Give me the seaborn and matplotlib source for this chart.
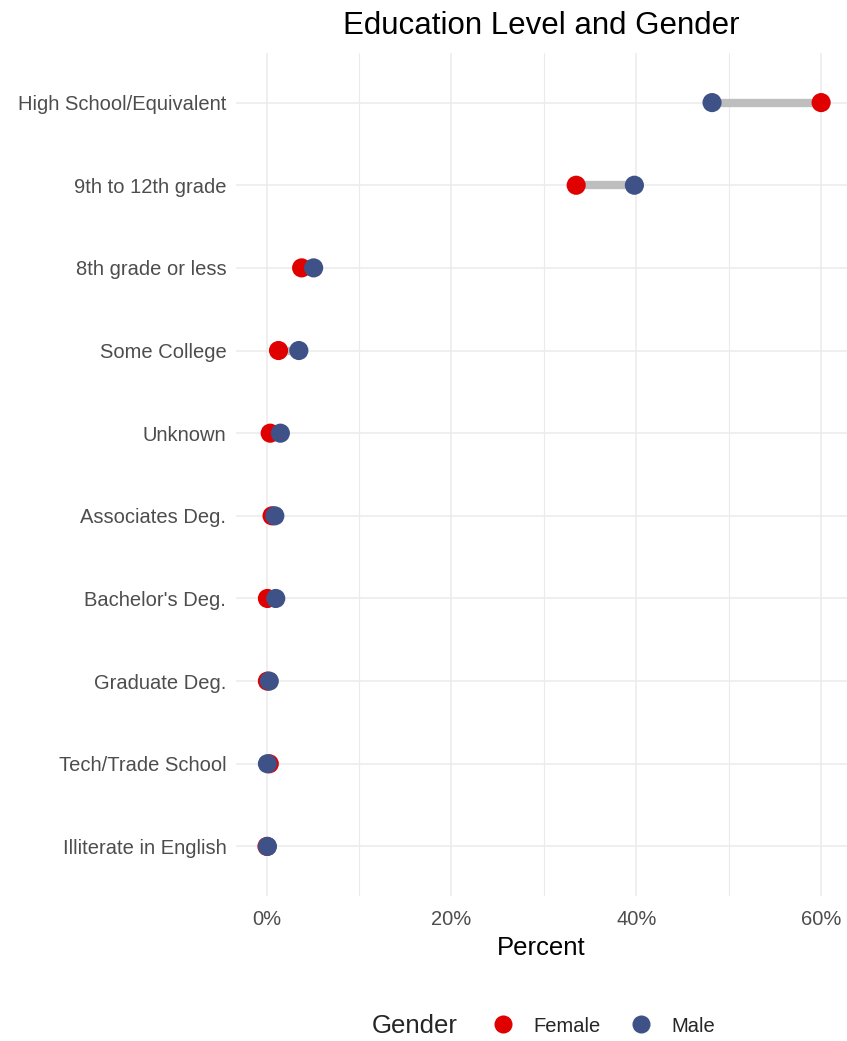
import matplotlib
matplotlib.use("Agg")
import matplotlib.pyplot as plt
import seaborn as sns
import pandas as pd
from matplotlib.ticker import FuncFormatter, MultipleLocator
from matplotlib.lines import Line2D

categories = ["High School/Equivalent", "9th to 12th grade", "8th grade or less",
              "Some College", "Unknown", "Associates Deg.", "Bachelor's Deg.",
              "Graduate Deg.", "Tech/Trade School", "Illiterate in English"]
female = [60.0, 33.5, 3.8, 1.3, 0.4, 0.6, 0.1, 0.1, 0.3, 0.05]
male = [48.2, 39.8, 5.1, 3.5, 1.5, 0.9, 1.0, 0.3, 0.1, 0.1]
genders = ["Female", "Male"]
colors = {"Female": "#E00000", "Male": "#3F5288"}

sns.set_theme(style="white")
plt.rcParams["font.family"] = ["Liberation Sans", "DejaVu Sans"]

df = pd.DataFrame({
    "Education": categories * 2,
    "Percent": female + male,
    "Gender": ["Female"] * len(categories) + ["Male"] * len(categories),
})
df["Education"] = pd.Categorical(df["Education"], categories=categories, ordered=True)

fig = plt.figure(figsize=(8.47, 10.41), dpi=100)
ax = fig.add_axes([236 / 847, 1 - 896 / 1041, 611 / 847, 843 / 1041])

# grid
for v in [0, 10, 20, 30, 40, 50, 60]:
    ax.axvline(v, color="#EBEBEB", lw=1.1 if v % 20 == 0 else 0.8, zorder=0)
for i in range(len(categories)):
    ax.axhline(i, color="#EBEBEB", lw=1.1, zorder=0)

# segments
ax.hlines(y=range(len(categories)), xmin=[min(a, b) for a, b in zip(female, male)],
          xmax=[max(a, b) for a, b in zip(female, male)], color="#BEBEBE", lw=6, zorder=1)

sns.scatterplot(data=df, x="Percent", y="Education", hue="Gender", hue_order=genders,
                palette=colors, s=190, edgecolor="none", linewidth=0, ax=ax,
                legend=False, zorder=3)

ax.set_xlim(-3.3, 62.8)
ax.set_ylim(len(categories) - 0.4, -0.6)
ax.xaxis.set_major_locator(MultipleLocator(20))
ax.xaxis.set_major_formatter(FuncFormatter(lambda v, p: f"{int(v)}%"))
for s in ax.spines.values():
    s.set_visible(False)
ax.tick_params(axis="both", length=0, labelsize=14.5, labelcolor="#4D4D4D")
ax.tick_params(axis="y", pad=7)
ax.tick_params(axis="x", pad=10)
ax.set_ylabel("")
ax.set_xlabel("Percent", fontsize=18.5, color="black", labelpad=5)
ax.set_title("Education Level and Gender", fontsize=22.5, color="black", pad=14)

handles = [Line2D([], [], marker="o", linestyle="", markersize=13,
                  markerfacecolor=colors[g], markeredgecolor="none") for g in genders]
fig.text(415 / 847, 1 - 1026 / 1041, "Gender", fontsize=18.5, ha="center", va="center")
fig.legend(handles, genders, loc="center", bbox_to_anchor=(604 / 847, 1 - 1026 / 1041),
           ncol=2, frameon=False, fontsize=14.5, handletextpad=1.0, columnspacing=1.5,
           handlelength=1.0)

fig.savefig("out.png", dpi=100)
